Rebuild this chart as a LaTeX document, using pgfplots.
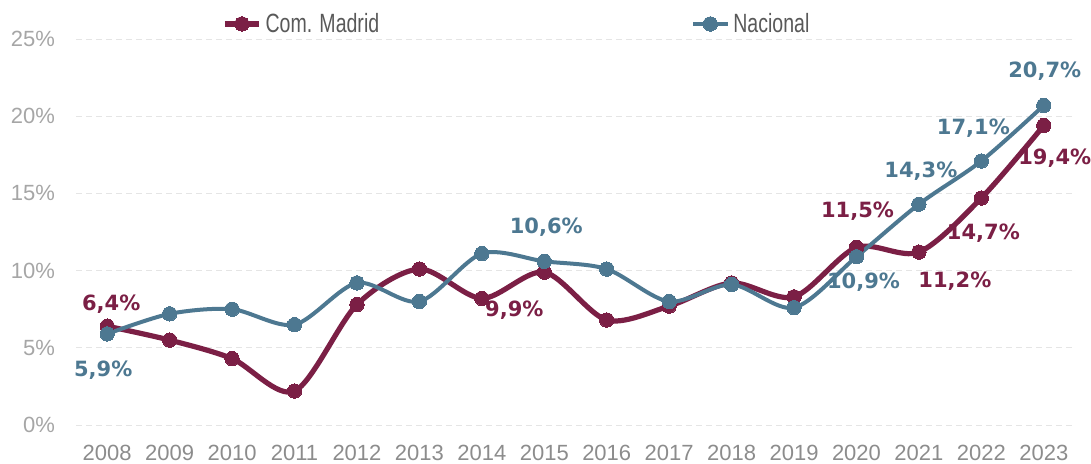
\documentclass[border=0pt]{standalone}
\usepackage{pgfplots}
\pgfplotsset{compat=1.18}
\usepackage{fontspec}
\setmainfont{Liberation Sans}
\newfontfamily\legfont[FakeStretch=0.74]{Liberation Sans}
\newfontfamily\labfont{DejaVu Sans}
\definecolor{mad}{HTML}{7B1F45}
\definecolor{nac}{HTML}{4D7891}
\definecolor{tickgray}{HTML}{A6A6A6}
\definecolor{xgray}{HTML}{8C8C8C}
\definecolor{leggray}{HTML}{595959}
\begin{document}
\begin{tikzpicture}[x=1pt,y=1pt]
\useasboundingbox (0,0) rectangle (545.5,231.5);
\begin{axis}[
  at={(38pt,19pt)}, anchor=south west,
  scale only axis, width=499.5pt, height=193pt,
  xmin=2007.5, xmax=2023.5, ymin=0, ymax=25,
  clip=false,
  xtick={2008,2009,2010,2011,2012,2013,2014,2015,2016,2017,2018,2019,2020,2021,2022,2023},
  xticklabels={2008,2009,2010,2011,2012,2013,2014,2015,2016,2017,2018,2019,2020,2021,2022,2023},
  ytick={0,5,10,15,20,25},
  yticklabels={0\%,5\%,10\%,15\%,20\%,25\%},
  major tick length=0pt,
  axis line style={draw=none},
  ymajorgrids,
  major grid style={densely dashed, draw=black!10, line width=0.5pt},
  extra y ticks={0},
  extra y tick labels={},
  extra y tick style={grid style={solid, draw=black!18, line width=1.2pt}},
  x tick label style={font=\fontsize{11}{13}\selectfont, text=xgray, yshift=-6.5pt},
  y tick label style={font=\fontsize{11}{13}\selectfont, text=tickgray, xshift=-7pt},
  legend style={at={(0.146,1.039)}, anchor=west, draw=none, fill=none,
    font=\legfont\fontsize{13.2}{15}\selectfont, text=leggray, inner sep=0pt,
    /tikz/every even column/.append style={column sep=154pt}},
  legend columns=2,
  legend cell align=left,
]
\addplot[mad, line width=2.6pt, smooth, tension=0.5, mark=*, mark size=3.6pt,
  mark options={solid, fill=mad, draw=mad, line width=0pt}] table {
x y
2008 6.4
2009 5.5
2010 4.3
2011 2.2
2012 7.8
2013 10.1
2014 8.2
2015 9.9
2016 6.8
2017 7.7
2018 9.2
2019 8.3
2020 11.5
2021 11.2
2022 14.7
2023 19.4
};
\addlegendentry{Com. Madrid}
\addplot[nac, line width=2pt, smooth, tension=0.5, mark=*, mark size=3.6pt,
  mark options={solid, fill=nac, draw=nac, line width=0pt}] table {
x y
2008 5.9
2009 7.2
2010 7.5
2011 6.5
2012 9.2
2013 8.0
2014 11.1
2015 10.6
2016 10.1
2017 8.0
2018 9.1
2019 7.6
2020 10.9
2021 14.3
2022 17.1
2023 20.7
};
\addlegendentry{Nacional}
\addplot[draw=none, mark=none, forget plot, nodes near coords, point meta=explicit symbolic,
  visualization depends on={value \thisrow{dx} \as \dx},
  visualization depends on={value \thisrow{dy} \as \dy},
  every node near coord/.append style={anchor=center, xshift=\dx pt, yshift=\dy pt,
    font=\labfont\bfseries\fontsize{10.5}{12}\selectfont, text=mad}] table[meta=lab] {
x y lab dx dy
2008 6.4 {6,4\%} 2 11
2015 9.9 {9,9\%} -15 -19
2020 11.5 {11,5\%} 0.5 18
2021 11.2 {11,2\%} 18 -14.5
2022 14.7 {14,7\%} 1 -17.5
2023 19.4 {19,4\%} 5.5 -16.5
};
\addplot[draw=none, mark=none, forget plot, nodes near coords, point meta=explicit symbolic,
  visualization depends on={value \thisrow{dx} \as \dx},
  visualization depends on={value \thisrow{dy} \as \dy},
  every node near coord/.append style={anchor=center, xshift=\dx pt, yshift=\dy pt,
    font=\labfont\bfseries\fontsize{10.5}{12}\selectfont, text=nac}] table[meta=lab] {
x y lab dx dy
2008 5.9 {5,9\%} -2 -18
2015 10.6 {10,6\%} 1 17
2020 10.9 {10,9\%} 3.5 -12.5
2021 14.3 {14,3\%} 1 16.5
2022 17.1 {17,1\%} -4 16.5
2023 20.7 {20,7\%} 0.5 17
};
\end{axis}
\end{tikzpicture}
\end{document}
